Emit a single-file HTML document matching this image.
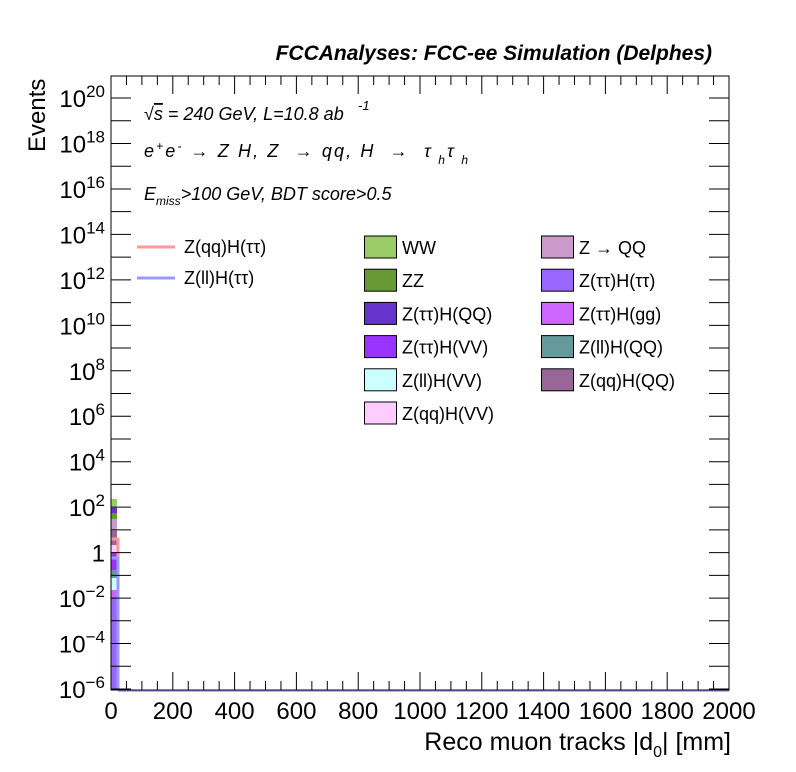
<!DOCTYPE html>
<html><head><style>
body{margin:0;background:#fff;}
svg{display:block;font-family:"Liberation Sans",sans-serif;}
</style></head><body>
<svg id="s" width="796" height="772" xmlns="http://www.w3.org/2000/svg">
<rect width="796" height="772" fill="#fff"/>
<g id="bars"></g>
<g id="ax" stroke="#000" stroke-width="1"></g>
<rect x="111" y="76" width="618" height="614" fill="none" stroke="#000" stroke-width="1"/>
<text x="712" y="60" text-anchor="end" font-size="21" font-weight="bold" font-style="italic">FCCAnalyses: FCC-ee Simulation (Delphes)</text>
<g font-size="18" font-style="italic">
<text x="144" y="120">√<tspan text-decoration="overline">s</tspan> = 240 GeV, L=10.8 ab</text>
<text x="358" y="110" font-size="13">-1</text>
<text x="144" y="157" xml:space="preserve" textLength="324" lengthAdjust="spacing">e<tspan font-size="12" dy="-7">+</tspan><tspan dy="7">e</tspan><tspan font-size="12" dy="-7">-</tspan><tspan dy="7"> → Z H, Z  → qq, H  →  τ</tspan><tspan font-size="12" dy="7"> h</tspan><tspan dy="-7">τ</tspan><tspan font-size="12" dy="7"> h</tspan></text>
<text x="144" y="200" font-size="18">E<tspan font-size="12" dy="5">miss</tspan><tspan dy="-5">&gt;100 GeV, BDT score&gt;0.5</tspan></text>
</g>
<text transform="translate(45,152) rotate(-90)" font-size="24">Events</text>
<text x="731" y="750" text-anchor="end" font-size="25">Reco muon tracks |d<tspan font-size="16" dy="7">0</tspan><tspan dy="-7">| [mm]</tspan></text>
<g id="leg" font-size="18"></g>
<g id="lab" font-size="24"></g>
</svg>
<script>
const NS="http://www.w3.org/2000/svg";
function el(p,t,a,txt){const e=document.createElementNS(NS,t);for(const k in a)e.setAttribute(k,a[k]);if(txt!==undefined)e.textContent=txt;document.getElementById(p).appendChild(e);return e;}
const Y=d=>689-(d+6)*22.73;
for(let d=-6;d<=20;d++){const y=Y(d);el('ax','line',{x1:111,x2:131,y1:y,y2:y});el('ax','line',{x1:709,x2:729,y1:y,y2:y});
 if(d%2==0){const t=el('lab','text',{x:105,y:y+9,'text-anchor':'end'});
  if(d==0){t.textContent='1';}
  else{t.textContent='10';const s=document.createElementNS(NS,'tspan');s.setAttribute('font-size','17');s.setAttribute('dy','-10');s.textContent=String(d).replace('-','−');t.appendChild(s);}
 }}
for(let v=0;v<=2000;v+=50){const x=111+v*0.309;const L=v%200==0?18:9;el('ax','line',{x1:x,x2:x,y1:690,y2:690-L});el('ax','line',{x1:x,x2:x,y1:76,y2:76+L});
 if(v%200==0)el('lab','text',{x:x,y:719,'text-anchor':'middle'},String(v));}
const st=[["#99cc66",499,508],["#6633cc",508,513],["#669933",513,519],["#cc99cc",519,531],["#996699",531,545],["#ffccff",545,553],["#9933ff",553,570],["#669999",570,578],["#ccffff",578,590],["#cc66ff",590,597],["#9966ff",597,690]];
st.forEach(s=>el('bars','rect',{x:111,y:s[1],width:6,height:s[2]-s[1],fill:s[0]}));
el('bars','path',{d:'M111 539 H118 V690',stroke:'#ff9999','stroke-width':3,fill:'none'});
el('bars','path',{d:'M111 558 H118 V690',stroke:'#9999ff','stroke-width':3,fill:'none'});
el('bars','line',{x1:118,x2:729,y1:691,y2:691,stroke:'#9999ff','stroke-width':1.5});
el('leg','line',{x1:137,x2:175,y1:247,y2:247,stroke:'#ff9999','stroke-width':3});
el('leg','text',{x:184,y:253},'Z(qq)H(ττ)');
el('leg','line',{x1:137,x2:175,y1:278,y2:278,stroke:'#9999ff','stroke-width':3});
el('leg','text',{x:184,y:284},'Z(ll)H(ττ)');
const L1=[["#99cc66","WW"],["#669933","ZZ"],["#6633cc","Z(ττ)H(QQ)"],["#9933ff","Z(ττ)H(VV)"],["#ccffff","Z(ll)H(VV)"],["#ffccff","Z(qq)H(VV)"]];
const L2=[["#cc99cc","Z → QQ"],["#9966ff","Z(ττ)H(ττ)"],["#cc66ff","Z(ττ)H(gg)"],["#669999","Z(ll)H(QQ)"],["#996699","Z(qq)H(QQ)"]];
L1.forEach((c,i)=>{const y=236+i*33.2;el('leg','rect',{x:364.5,y:y,width:32,height:22,fill:c[0],stroke:'#000'});el('leg','text',{x:402,y:y+18},c[1]);});
L2.forEach((c,i)=>{const y=236+i*33.2;el('leg','rect',{x:541.5,y:y,width:32,height:22,fill:c[0],stroke:'#000'});el('leg','text',{x:579,y:y+18},c[1]);});
</script>
</body></html>
